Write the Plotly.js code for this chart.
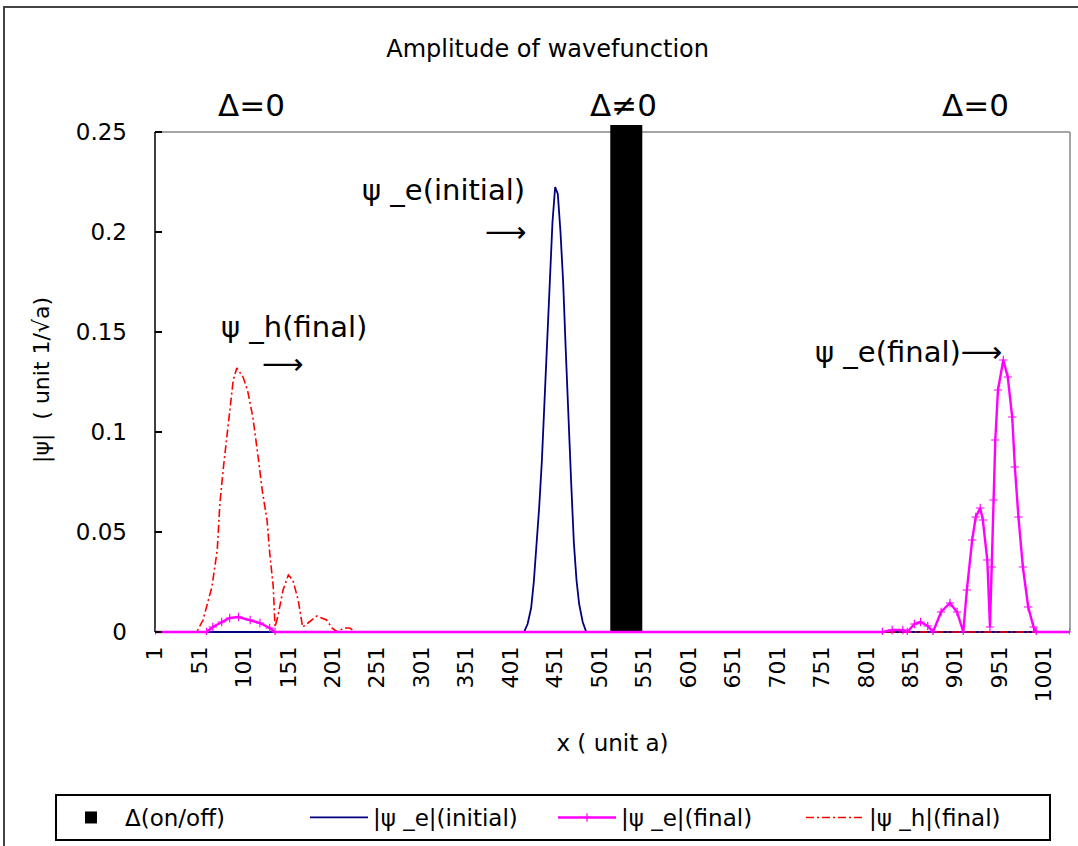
<!DOCTYPE html>
<html>
<head>
<meta charset="utf-8">
<script src="https://cdn.plot.ly/plotly-3.0.1.min.js"></script>
<style>
  html, body { margin: 0; padding: 0; background: #fff; overflow: hidden; }
  #chart { position: absolute; left: 0; top: 0; width: 1078px; height: 846px; }
  #frame { position: absolute; left: 3px; top: 6px; width: 1200px; height: 1000px;
           border: 2px solid #444; pointer-events: none; }
</style>
</head>
<body>
<div id="chart"></div>
<div id="frame"></div>
<script>
// ---- data ----
const xTicks = [1, 51, 101, 151, 201, 251, 301, 351, 401, 451, 501, 551, 601, 651, 701, 751, 801, 851, 901, 951, 1001];
const yTicks = [0, 0.05, 0.1, 0.15, 0.2, 0.25];
const yTickText = ['0', '0.05', '0.1', '0.15', '0.2', '0.25'];

// Δ(on/off)
const deltaX = [531];
const deltaY = [0.2535];

// |ψ_e|(initial)
const psiEInitX = [1, 416, 420, 424, 427, 430, 433, 436, 439, 442, 445, 448, 451, 454, 457, 460, 463, 466, 469, 472, 475, 478, 482, 486, 1030];
const psiEInitY = [0, 0, 0.004, 0.012, 0.025, 0.042, 0.062, 0.085, 0.115, 0.145, 0.180, 0.205, 0.2225, 0.219, 0.200, 0.175, 0.140, 0.105, 0.075, 0.045, 0.026, 0.014, 0.005, 0, 0];

// |ψ_e|(final)
const psiEFinX = [1, 59, 66, 76, 85, 95, 108, 119, 130, 136, 819, 830, 842, 847, 855, 862, 870, 876, 885, 895, 903, 910, 914, 920, 924, 929, 932, 937, 940, 942, 944, 946, 949, 955, 960, 965, 968, 972, 977, 983, 989, 992, 1030];
const psiEFinY = [0, 0, 0.0025, 0.005, 0.007, 0.0075, 0.006, 0.0045, 0.002, 0, 0, 0.001, 0.001, 0, 0.004, 0.005, 0.003, 0, 0.01, 0.0145, 0.01, 0, 0.021, 0.046, 0.0575, 0.062, 0.056, 0.036, 0.0025, 0.0325, 0.066, 0.096, 0.121, 0.136, 0.1275, 0.1075, 0.0825, 0.0575, 0.0325, 0.0125, 0.0025, 0, 0];

// |ψ_h|(final)
const psiHFinX = [1, 48, 55, 59, 65, 71, 74, 78, 83, 89, 93, 100, 105, 111, 117, 122, 127, 130, 134, 136, 139, 145, 151, 156, 162, 167, 173, 183, 194, 200, 206, 213, 220, 226, 1030];
const psiHFinY = [0, 0, 0.006, 0.0125, 0.0225, 0.041, 0.0645, 0.0825, 0.1025, 0.126, 0.132, 0.1275, 0.121, 0.1075, 0.0875, 0.0695, 0.056, 0.0395, 0.0225, 0.0025, 0.0075, 0.021, 0.0285, 0.026, 0.016, 0.0025, 0.0045, 0.008, 0.006, 0.002, 0, 0.002, 0.002, 0, 0];

const FONT = "DejaVu Sans, Liberation Sans, Noto Sans CJK JP, sans-serif";
const yTop = yTicks[yTicks.length - 1];

const traces = [
  { type: 'bar', name: 'Δ(on/off)', x: deltaX, y: deltaY, width: [36],
    marker: { color: '#000000', line: { width: 0 } }, legendrank: 1 },
  { type: 'scatter', mode: 'lines', name: '|ψ _e|(initial)', x: psiEInitX, y: psiEInitY,
    line: { color: '#000080', width: 1.8 }, legendrank: 2 },
  { type: 'scatter', mode: 'lines', name: '|ψ _h|(final)', x: psiHFinX, y: psiHFinY,
    line: { color: '#FF0000', width: 1.6, dash: '8px,3px,2px,3px' }, legendrank: 4 },
  { type: 'scatter', mode: 'lines+markers', name: '|ψ _e|(final)', x: psiEFinX, y: psiEFinY,
    line: { color: '#FF00FF', width: 2.4 },
    marker: { symbol: 'cross-thin-open', size: 6, line: { color: '#FF00FF', width: 1.2 } },
    legendrank: 3 }
];

const annFont = { family: FONT, size: 29, color: '#000' };
const deltaFont = { family: FONT, size: 31, color: '#000' };
const layout = {
  width: 1078, height: 846,
  margin: { l: 155, r: 8, t: 125, b: 211, autoexpand: false },
  paper_bgcolor: '#fff', plot_bgcolor: '#fff',
  font: { family: FONT, color: '#000' },
  title: { text: 'Amplitude of wavefunction', font: { family: FONT, size: 24, color: '#000' },
           x: 0.508, xanchor: 'center', y: 0.943, yanchor: 'middle' },
  barmode: 'overlay',
  showlegend: true,
  legend: { orientation: 'h', x: -0.1093, xanchor: 'left', y: -0.3118, yanchor: 'top',
            bordercolor: '#000', borderwidth: 2, bgcolor: '#fff',
            font: { family: FONT, size: 23, color: '#000' }, itemwidth: 58,
            entrywidth: 175, entrywidthmode: 'pixels', traceorder: 'normal' },
  xaxis: {
    range: [1, 1030], tickmode: 'array', tickvals: xTicks, ticktext: xTicks.map(String),
    tickangle: -90, tickfont: { family: FONT, size: 22, color: '#000' }, ticklabelstandoff: 6,
    showgrid: false, zeroline: false, showline: false,
    ticks: '', automargin: false,
    title: { text: 'x ( unit a)', font: { family: FONT, size: 23, color: '#000' }, standoff: 33 }
  },
  yaxis: {
    range: [-0.0015, deltaY[0]], tickmode: 'array', tickvals: yTicks, ticktext: yTickText,
    tickfont: { family: FONT, size: 23, color: '#000' }, ticklabelstandoff: 27,
    showgrid: false, zeroline: false, showline: false,
    ticks: 'inside', ticklen: 7, tickcolor: '#000', tickwidth: 1.5, automargin: false,
    title: { text: '|ψ|  ( unit 1/√a)', font: { family: FONT, size: 22, color: '#000' }, standoff: 20 }
  },
  shapes: [
    { type: 'line', xref: 'paper', yref: 'y', x0: 0, x1: 1, y0: yTop, y1: yTop, line: { color: '#888', width: 1.5 }, layer: 'below' },
    { type: 'line', xref: 'paper', yref: 'y', x0: 1, x1: 1, y0: 0, y1: yTop, line: { color: '#888', width: 1.5 }, layer: 'below' },
    { type: 'line', xref: 'paper', yref: 'y', x0: 0, x1: 0, y0: 0, y1: yTop, line: { color: '#000', width: 1.5 }, layer: 'below' },
    { type: 'line', xref: 'paper', yref: 'y', x0: 0, x1: 1, y0: 0, y1: 0, line: { color: '#000', width: 1 }, layer: 'below' }
  ],
  annotations: [
    { text: 'Δ=0', xref: 'paper', yref: 'paper', x: 0.105, y: 1.0392, xanchor: 'center', yanchor: 'middle', showarrow: false, font: deltaFont },
    { text: 'Δ≠0', xref: 'paper', yref: 'paper', x: 0.5115, y: 1.0392, xanchor: 'center', yanchor: 'middle', showarrow: false, font: deltaFont },
    { text: 'Δ=0', xref: 'paper', yref: 'paper', x: 0.897, y: 1.0392, xanchor: 'center', yanchor: 'middle', showarrow: false, font: deltaFont },
    { text: 'ψ _e(initial)', xref: 'x', yref: 'y', x: 326, y: 0.221, xanchor: 'center', showarrow: false, font: annFont },
    { text: '⟶', xref: 'x', yref: 'y', x: 396, y: 0.2, xanchor: 'center', showarrow: false, font: annFont },
    { text: 'ψ _h(final)', xref: 'x', yref: 'y', x: 157, y: 0.1525, xanchor: 'center', showarrow: false, font: annFont },
    { text: '⟶', xref: 'x', yref: 'y', x: 145, y: 0.134, xanchor: 'center', showarrow: false, font: annFont },
    { text: 'ψ _e(final)⟶', xref: 'x', yref: 'y', x: 848, y: 0.14, xanchor: 'center', showarrow: false, font: annFont }
  ]
};

Plotly.newPlot('chart', traces, layout, { staticPlot: true, displayModeBar: false });
</script>
</body>
</html>
